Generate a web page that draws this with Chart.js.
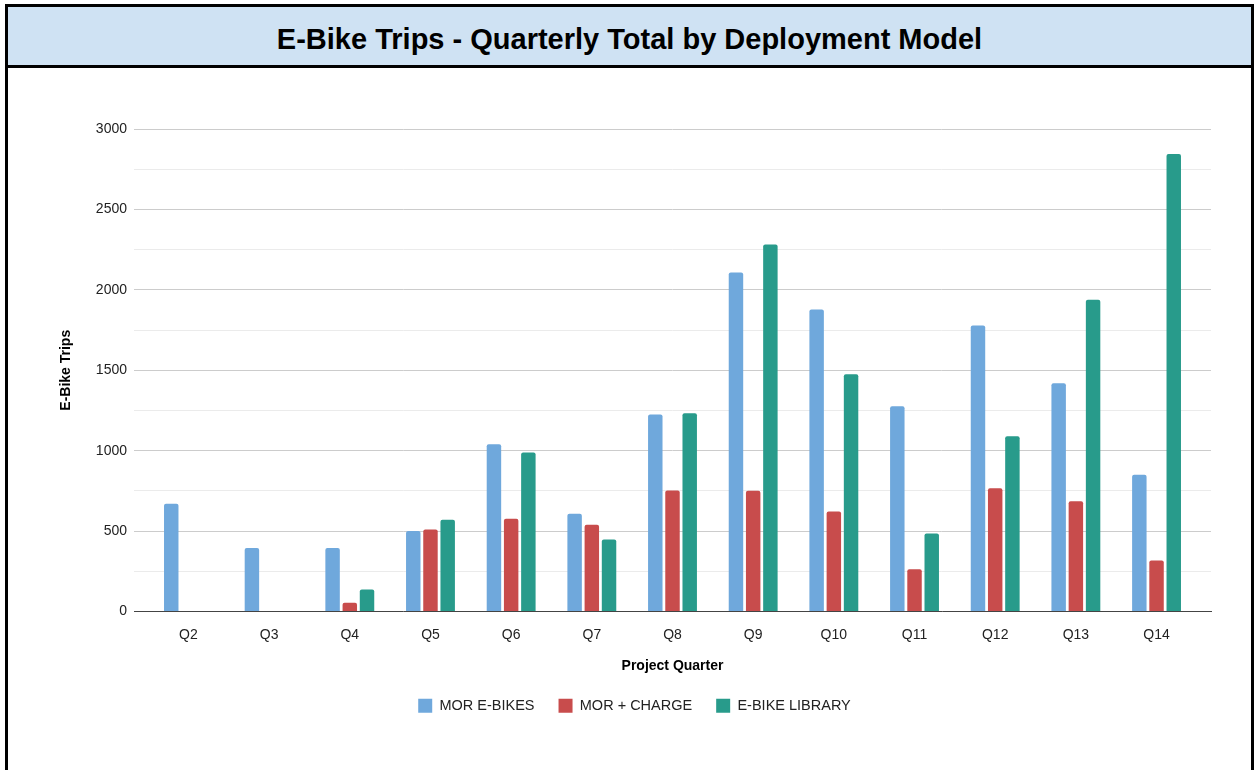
<!DOCTYPE html>
<html>
<head>
<meta charset="utf-8">
<script src="https://cdn.jsdelivr.net/npm/chart.js@4.4.1/dist/chart.umd.min.js"></script>
<style>
  html, body { margin: 0; padding: 0; background: #fff; }
  body { width: 1254px; height: 770px; overflow: hidden; position: relative; font-family: "Liberation Sans", Arial, sans-serif; }
  #frame {
    position: absolute; left: 5px; top: 4px; width: 1249px; height: 790px;
    border: 3px solid #000; border-bottom: none; box-sizing: border-box;
  }
  #head {
    height: 61px; background: #cfe2f3; border-bottom: 3px solid #000; box-sizing: border-box;
    display: flex; align-items: center; justify-content: center;
    font-weight: bold; font-size: 29px; color: #000; padding-top: 7px;
  }
  #wrap { position: absolute; left: 0; top: 61px; width: 1243px; height: 702px; }
</style>
</head>
<body>
<div id="frame">
  <div id="head">E-Bike Trips - Quarterly Total by Deployment Model</div>
  <div id="wrap"><canvas id="c" width="1243" height="702"></canvas></div>
</div>
<script>
// Project quarters and quarterly trip totals per deployment model
const quarters = ['Q2', 'Q3', 'Q4', 'Q5', 'Q6', 'Q7', 'Q8', 'Q9', 'Q10', 'Q11', 'Q12', 'Q13', 'Q14'];
const morEbikes = [670, 395, 395, 500, 1040, 608, 1225, 2108, 1878, 1276, 1778, 1419, 851];
const morCharge = [0, 0, 54, 510, 577, 540, 753, 751, 622, 263, 767, 685, 317];
const ebikeLibrary = [0, 0, 137, 570, 988, 448, 1232, 2282, 1475, 485, 1089, 1938, 2844];
const yTicks = [0, 500, 1000, 1500, 2000, 2500, 3000];

const FONT = '"Liberation Sans", Arial, sans-serif';
const toPoints = arr => arr.map((v, i) => ({ x: i, y: v }));

const barStyle = {
  borderRadius: { topLeft: 2, topRight: 2 },
  borderSkipped: 'bottom',
  categoryPercentage: 0.64,
  barPercentage: 0.84
};

new Chart(document.getElementById('c'), {
  type: 'bar',
  data: {
    datasets: [
      Object.assign({ label: 'MOR E-BIKES', data: toPoints(morEbikes), backgroundColor: '#6fa8dc' }, barStyle),
      Object.assign({ label: 'MOR + CHARGE', data: toPoints(morCharge), backgroundColor: '#c84c4c' }, barStyle),
      Object.assign({ label: 'E-BIKE LIBRARY', data: toPoints(ebikeLibrary), backgroundColor: '#289b8b' }, barStyle)
    ]
  },
  options: {
    responsive: false,
    animation: false,
    layout: { padding: { top: 61, right: 40, bottom: 47, left: 50 } },
    plugins: {
      legend: {
        position: 'bottom',
        labels: {
          font: { family: FONT, size: 14.5 },
          color: '#222',
          boxWidth: 14,
          boxHeight: 14,
          padding: 24
        }
      },
      tooltip: { enabled: false }
    },
    scales: {
      x: {
        type: 'linear',
        offset: false,
        min: -0.675,
        max: 12.675,
        afterBuildTicks: scale => { scale.ticks = quarters.map((_, i) => ({ value: i })); },
        afterFit: scale => { scale.height = 63; },
        grid: { display: false, drawTicks: false },
        border: { display: true, color: '#444', width: 1 },
        ticks: {
          autoSkip: false,
          maxRotation: 0,
          padding: 15,
          font: { family: FONT, size: 14 },
          color: '#222',
          callback: v => quarters[v]
        },
        title: {
          display: true,
          text: 'Project Quarter',
          font: { family: FONT, size: 14, weight: 'bold' },
          color: '#000',
          padding: { top: 0, bottom: 0 }
        }
      },
      y: {
        min: 0,
        max: 3000,
        afterBuildTicks: scale => {
          const t = [];
          for (let v = 0; v <= 3000; v += 250) t.push({ value: v });
          scale.ticks = t;
        },
        afterFit: scale => { scale.width = 76; },
        grid: {
          drawTicks: false,
          color: ctx => (yTicks.includes(ctx.tick.value) ? '#cccccc' : '#ebebeb'),
          lineWidth: 1
        },
        border: { display: false },
        ticks: {
          padding: 7,
          font: { family: FONT, size: 14 },
          color: '#222',
          callback: v => (yTicks.includes(v) ? String(v) : '')
        },
        title: {
          display: true,
          text: 'E-Bike Trips',
          font: { family: FONT, size: 14, weight: 'bold' },
          color: '#000',
          padding: { top: 0, bottom: 0 }
        }
      }
    }
  }
});
</script>
</body>
</html>
